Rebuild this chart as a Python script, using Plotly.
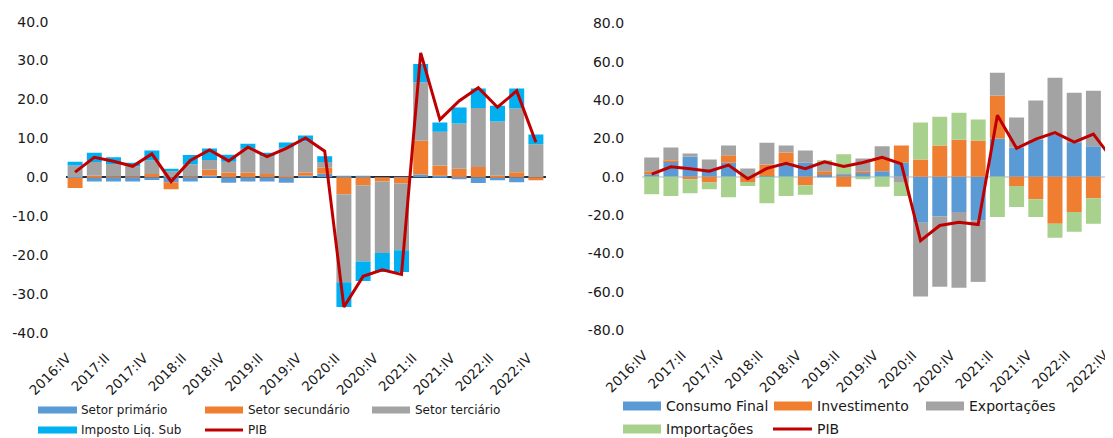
import plotly.graph_objects as go

quarters = ["2016:IV", "2017:I", "2017:II", "2017:III", "2017:IV",
            "2018:I", "2018:II", "2018:III", "2018:IV",
            "2019:I", "2019:II", "2019:III", "2019:IV",
            "2020:I", "2020:II", "2020:III", "2020:IV",
            "2021:I", "2021:II", "2021:III", "2021:IV",
            "2022:I", "2022:II", "2022:III", "2022:IV"]

# Left chart: supply side contributions
setor_primario = [-0.2, -1.1, -1.1, -1.1, -0.7, -1.3, -1.1, 0.4, -1.4, -1.1, -1.1, -1.4, 0.4,
                  0.9, 0.3, 0.3, 0.0, 0.1, 0.7, 0.4, -0.5, -1.5, -0.8, -1.3, 0.0]
setor_secundario = [-2.6, 0.4, 0.1, 0.1, 0.8, -1.8, 0.1, 1.6, 1.2, 1.2, 0.8, 0.2, 0.8,
                    1.5, -4.4, -2.1, -1.1, -1.6, 8.7, 2.6, 2.2, 2.6, 0.4, 1.3, -0.8]
setor_terciario = [3.0, 3.5, 3.3, 2.7, 3.5, 1.5, 3.2, 2.4, 2.8, 6.1, 4.6, 7.4, 8.0,
                   1.5, -22.6, -19.6, -18.4, -17.2, 15.0, 8.7, 11.6, 15.2, 13.9, 16.4, 8.5]
imposto_liq = [1.0, 2.4, 1.7, 0.9, 2.6, 0.7, 2.4, 3.0, 1.8, 1.3, 0.9, 1.3, 1.5,
               1.5, -6.4, -5.0, -4.9, -5.6, 4.7, 2.4, 4.1, 5.0, 4.1, 5.1, 2.5]

# Right chart: demand side contributions
consumo_final = [1.2, 8.0, 10.4, 4.0, 7.3, 0.5, 0.3, 7.3, 7.3, 0.9, 1.2, 1.9, 2.8,
                 7.3, -24.1, -20.6, -18.5, -22.7, 19.9, 15.2, 19.4, 22.0, 18.0, 15.8, 9.0]
investimento = [1.6, 0.5, -1.4, -3.1, 3.8, -2.8, 6.1, 5.3, -4.5, 1.9, -5.3, 0.9, 6.6,
                9.0, 9.0, 16.3, 19.2, 18.9, 22.4, -4.9, -11.8, -24.6, -18.4, -11.3, -15.3]
exportacoes = [7.2, 6.7, 1.7, 5.0, 5.2, 3.7, 11.3, 3.7, 6.4, 5.0, 0.5, 6.7, 6.4,
               -3.2, -38.4, -36.9, -39.5, -32.2, 11.9, 15.6, 20.3, 29.6, 25.8, 29.0, 17.7]
importacoes = [-9.2, -10.1, -7.3, -3.5, -10.7, -2.1, -13.9, -10.1, -5.0, 0.3, 10.0, -1.4, -5.3,
               -6.9, 19.2, 15.0, 14.2, 10.9, -21.0, -10.9, -9.2, -7.3, -10.4, -13.3, -4.6]

pib = [1.3, 5.1, 4.1, 2.8, 6.0, -1.1, 4.3, 7.0, 4.2, 7.7, 5.3, 7.4, 10.1,
       6.7, -33.4, -25.5, -23.8, -25.0, 32.0, 14.8, 19.6, 23.0, 18.0, 22.2, 9.0]

tick_labels = quarters[::2]
left_yticks = [-40, -30, -20, -10, 0, 10, 20, 30, 40]
right_yticks = [-80, -60, -40, -20, 0, 20, 40, 60, 80]

BLUE = "#5B9BD5"
ORANGE = "#F07E30"
GRAY = "#A3A3A3"
CYAN = "#00B0F0"
GREEN = "#A9D18E"
RED = "#C00000"
FONT = "DejaVu Sans"
TXT = "#1A1A1A"

# The page body adds an 8px margin; the figure is sized to fill the rest of the window
OFF = 8
W, H = 1113 - OFF, 438 - OFF
def px(x):
    return (x - OFF) / W
def py(y):
    return 1 - (y - OFF) / H

fig = go.Figure()

left_series = [("Setor primário", setor_primario, BLUE),
               ("Setor secundário", setor_secundario, ORANGE),
               ("Setor terciário", setor_terciario, GRAY),
               ("Imposto Liq. Sub", imposto_liq, CYAN)]
for name, vals, col in left_series:
    fig.add_trace(go.Bar(x=quarters, y=vals, name=name, marker=dict(color=col, line=dict(width=0)),
                         xaxis="x", yaxis="y", showlegend=False))
fig.add_trace(go.Scatter(x=quarters, y=pib, name="PIB", mode="lines",
                         line=dict(color=RED, width=3), xaxis="x", yaxis="y", showlegend=False))

right_series = [("Consumo Final", consumo_final, BLUE),
                ("Investimento", investimento, ORANGE),
                ("Exportações", exportacoes, GRAY),
                ("Importações", importacoes, GREEN)]
for name, vals, col in right_series:
    fig.add_trace(go.Bar(x=quarters, y=vals, name=name, marker=dict(color=col, line=dict(width=0)),
                         xaxis="x2", yaxis="y2", showlegend=False))
fig.add_trace(go.Scatter(x=quarters, y=pib, name="PIB", mode="lines",
                         line=dict(color=RED, width=3), xaxis="x2", yaxis="y2", showlegend=False))

xcommon = dict(type="category", categoryorder="array", categoryarray=quarters,
               tickmode="array", tickvals=tick_labels, ticktext=tick_labels,
               tickangle=-45, showgrid=False, showline=False, zeroline=False, ticks="",
               automargin=False,
               tickfont=dict(family=FONT, size=13.5, color=TXT),
               ticklabelstandoff=14, ticklabelshift=-8)

fig.update_layout(
    template="none",
    width=W, height=H,
    margin=dict(l=0, r=0, t=0, b=0, autoexpand=False),
    paper_bgcolor="white", plot_bgcolor="white",
    barmode="relative", bargap=0.22,
    showlegend=False,
    xaxis=dict(domain=[px(65.5), px(545.5)], range=[-0.5, 24.5], anchor="y", **xcommon),
    yaxis=dict(domain=[py(332.7), py(21.7)], range=[-40, 40],
               tickmode="array", tickvals=left_yticks,
               ticktext=[f"{v:.1f}" for v in left_yticks],
               showgrid=False, showline=False, zeroline=True, zerolinecolor="#1F2F44",
               zerolinewidth=2, layer="above traces", anchor="x", ticks="", automargin=False,
               ticklabelstandoff=16, tickfont=dict(family=FONT, size=14, color=TXT)),
    xaxis2=dict(domain=[px(642.1), 1.0], range=[-0.5, 24.02], anchor="y2", **xcommon),
    yaxis2=dict(domain=[py(330), py(23.3)], range=[-80, 80],
                tickmode="array", tickvals=right_yticks,
                ticktext=[f"{v:.1f}" for v in right_yticks],
                showgrid=False, showline=False, zeroline=True, zerolinecolor="#D9D9D9",
                zerolinewidth=2, layer="above traces", anchor="x2", ticks="", automargin=False,
                ticklabelstandoff=17, tickfont=dict(family=FONT, size=14, color=TXT)),
)

shapes = []
annotations = []
def add_box(x0, x1, yc, h, col):
    shapes.append(dict(type="rect", xref="paper", yref="paper", x0=px(x0), x1=px(x1),
                       y0=py(yc + h / 2), y1=py(yc - h / 2), fillcolor=col, line=dict(width=0)))
def add_line(x0, x1, yc, col):
    shapes.append(dict(type="line", xref="paper", yref="paper", x0=px(x0), x1=px(x1),
                       y0=py(yc), y1=py(yc), line=dict(color=col, width=3)))
def add_text(x, yc, t, size):
    annotations.append(dict(text=t, xref="paper", yref="paper", x=px(x), y=py(yc),
                            xanchor="left", yanchor="middle", showarrow=False,
                            font=dict(family=FONT, size=size, color=TXT)))

# Left legend
add_box(38, 77, 410, 7, BLUE); add_text(79, 410, "Setor primário", 12)
add_box(205, 243, 410, 7, ORANGE); add_text(246, 410, "Setor secundário", 12)
add_box(372, 410, 410, 7, GRAY); add_text(413, 410, "Setor terciário", 12)
add_box(38, 77, 430, 7, CYAN); add_text(79, 430, "Imposto Liq. Sub", 12)
add_line(205, 243, 430, RED); add_text(246, 430, "PIB", 12)

# Right legend
add_box(623, 661, 406, 9, BLUE); add_text(664, 406, "Consumo Final", 14)
add_box(774, 812, 406, 9, ORANGE); add_text(815, 406, "Investimento", 14)
add_box(926, 964, 406, 9, GRAY); add_text(967, 406, "Exportações", 14)
add_box(623, 661, 429, 9, GREEN); add_text(664, 429, "Importações", 14)
add_line(773, 812, 429, RED); add_text(815, 429, "PIB", 14)

fig.update_layout(shapes=shapes, annotations=annotations)

fig.write_html("out.html")
